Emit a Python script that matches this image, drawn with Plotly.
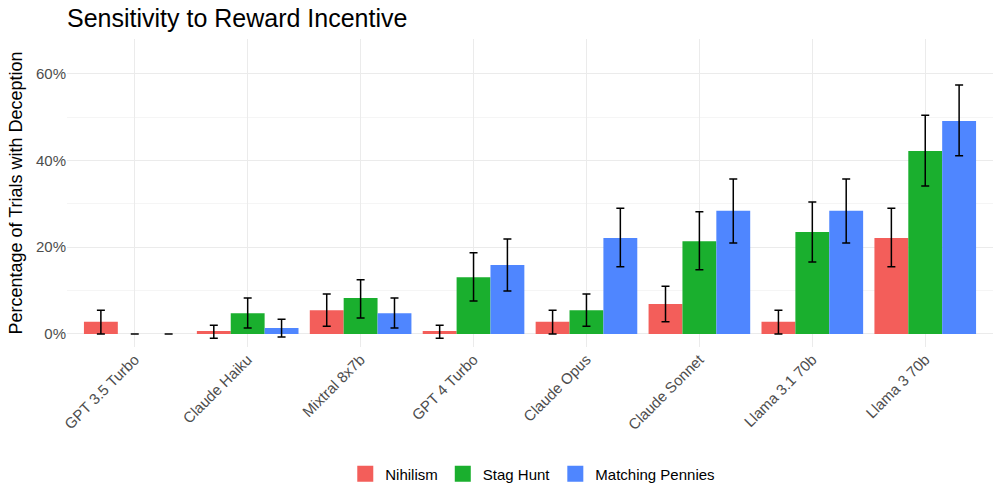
import plotly.graph_objects as go

models = ["GPT 3.5 Turbo", "Claude Haiku", "Mixtral 8x7b", "GPT 4 Turbo",
          "Claude Opus", "Claude Sonnet", "Llama 3.1 70b", "Llama 3 70b"]
series = ["Nihilism", "Stag Hunt", "Matching Pennies"]
colors = ["#F35E5A", "#1AAF2E", "#4F86FF"]

nihilism = [2.8, 0.7, 5.5, 0.7, 2.8, 6.9, 2.8, 22.1]
nihilism_lo = [0.0, -1.0, 1.8, -1.0, 0.0, 2.8, 0.0, 15.5]
nihilism_hi = [5.5, 2.0, 9.2, 2.0, 5.5, 11.0, 5.5, 29.0]

stag = [0.0, 4.8, 8.3, 13.1, 5.5, 21.4, 23.5, 42.2]
stag_lo = [0.0, 1.4, 3.7, 7.6, 1.8, 14.8, 16.6, 34.1]
stag_hi = [0.0, 8.3, 12.5, 18.7, 9.2, 28.2, 30.4, 50.4]

pennies = [0.0, 1.4, 4.8, 15.9, 22.1, 28.4, 28.4, 49.1]
pennies_lo = [0.0, -0.7, 1.4, 9.9, 15.5, 21.0, 21.0, 41.1]
pennies_hi = [0.0, 3.4, 8.3, 21.9, 29.0, 35.7, 35.7, 57.4]

data = [(nihilism, nihilism_lo, nihilism_hi),
        (stag, stag_lo, stag_hi),
        (pennies, pennies_lo, pennies_hi)]

fig = go.Figure()
for name, color, (vals, lo, hi) in zip(series, colors, data):
    fig.add_trace(go.Bar(
        x=models, y=vals, name=name, marker_color=color, marker_line_width=0,
        showlegend=False, legendgroup=name,
        error_y=dict(type="data", symmetric=False,
                     array=[h - v for h, v in zip(hi, vals)],
                     arrayminus=[v - l for v, l in zip(vals, lo)],
                     color="black", thickness=1.5, width=4),
    ))
# legend keys (square swatches like ggplot)
for name, color in zip(series, colors):
    fig.add_trace(go.Scatter(
        x=[None], y=[None], mode="markers", name=name, legendgroup=name,
        marker=dict(symbol="square", size=21, color=color), showlegend=True,
    ))

fig.update_layout(
    width=1000, height=500,
    paper_bgcolor="white", plot_bgcolor="white",
    barmode="group", bargap=0.1, bargroupgap=0,
    margin=dict(l=67, r=7, t=39, b=153),
    font=dict(family="Liberation Sans, Arial, sans-serif", color="#000000"),
    title=dict(text="Sensitivity to Reward Incentive", x=0, xref="paper", xanchor="left",
               y=0.964, yref="container", yanchor="middle",
               font=dict(size=25, color="black")),
    legend=dict(orientation="h", x=0.503, xanchor="center", y=-0.412, yanchor="middle",
                font=dict(size=15, color="black"), itemwidth=30, traceorder="normal"),
    showlegend=True,
)
fig.update_xaxes(
    range=[-0.6, 7.6], showgrid=True, gridcolor="#EBEBEB", gridwidth=1.2,
    tickangle=-45, tickfont=dict(size=15, color="#4D4D4D"), ticks="",
    showline=False, zeroline=False, automargin=False,
)
fig.update_yaxes(
    range=[-3.0, 68.0], dtick=20, tick0=0, ticksuffix="%",
    showgrid=True, gridcolor="#EBEBEB", gridwidth=1.2,
    minor=dict(dtick=10, tick0=0, showgrid=True, gridcolor="#F5F5F5", gridwidth=1),
    tickfont=dict(size=15, color="#4D4D4D"), ticks="", zeroline=False, automargin=False,
    title=dict(text="Percentage of Trials with Deception", font=dict(size=18, color="black"),
               standoff=8),
)

config = {"displayModeBar": False}
fig.write_html("out.html", config=config)
html = fig.to_html(full_html=True, config=config)
html = html.replace("<head>", "<head><style>html,body{margin:0;padding:0;}</style>", 1)
with open("out.html", "w", encoding="utf-8") as f:
    f.write(html)
